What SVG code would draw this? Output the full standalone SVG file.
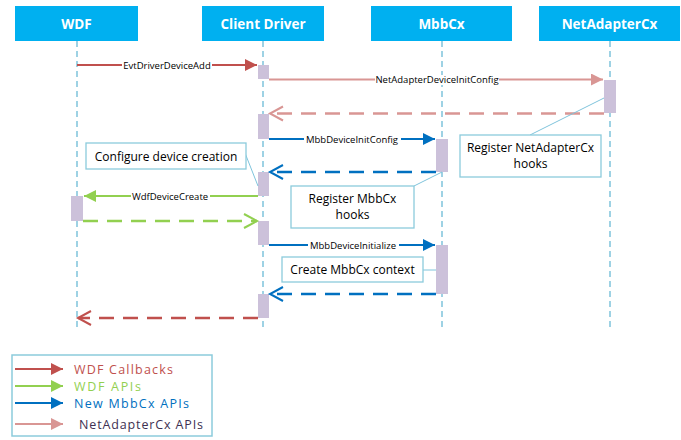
<svg xmlns="http://www.w3.org/2000/svg" width="681" height="440" viewBox="0 0 681 440">
<style>
.hdr{fill:#00b0f0}
.htxt{font-family:"Open Sans","Noto Sans",sans-serif;font-weight:bold;font-size:13.5px;fill:#fff;text-anchor:middle}
.life{stroke:#7fc4dc;stroke-width:1.5;stroke-dasharray:6,4;fill:none}
.act{fill:#ccc1da}
.msg{font-family:"Open Sans","Noto Sans",sans-serif;font-size:9.5px;fill:#000;text-anchor:middle}
.lbg{fill:#fff}
.note{fill:#fff;stroke:#8ccbdc;stroke-width:1.3}
.ntxt{font-family:"Open Sans","Noto Sans",sans-serif;font-size:12px;fill:#000;text-anchor:middle}
.nline{stroke:#7fc4dc;stroke-width:1;fill:none}
.solid{stroke-width:2;fill:none}
.dash{stroke-width:2.5;fill:none;stroke-dasharray:15,9}
.red{stroke:#c0504d}.pink{stroke:#d99694}.blue{stroke:#0070c0}.green{stroke:#92d050}
.leg{font-family:"Open Sans","Noto Sans",sans-serif;font-size:12.5px}
</style>
<defs>
<marker id="fRed" markerUnits="userSpaceOnUse" markerWidth="13" markerHeight="13" refX="12" refY="6" orient="auto"><path d="M0,0 L12,6 L0,12 z" fill="#c0504d"/></marker>
<marker id="fPink" markerUnits="userSpaceOnUse" markerWidth="13" markerHeight="13" refX="12" refY="6" orient="auto"><path d="M0,0 L12,6 L0,12 z" fill="#d99694"/></marker>
<marker id="fBlue" markerUnits="userSpaceOnUse" markerWidth="13" markerHeight="13" refX="12" refY="6" orient="auto"><path d="M0,0 L12,6 L0,12 z" fill="#0070c0"/></marker>
<marker id="fGreen" markerUnits="userSpaceOnUse" markerWidth="13" markerHeight="13" refX="12" refY="6" orient="auto"><path d="M0,0 L12,6 L0,12 z" fill="#92d050"/></marker>
<marker id="oRed" markerUnits="userSpaceOnUse" markerWidth="18" markerHeight="20" refX="14" refY="9" orient="auto" overflow="visible"><path d="M1,2 L14,9 L1,16" fill="none" stroke="#c0504d" stroke-width="2"/></marker>
<marker id="oPink" markerUnits="userSpaceOnUse" markerWidth="18" markerHeight="20" refX="14" refY="9" orient="auto" overflow="visible"><path d="M1,2 L14,9 L1,16" fill="none" stroke="#d99694" stroke-width="2"/></marker>
<marker id="oBlue" markerUnits="userSpaceOnUse" markerWidth="18" markerHeight="20" refX="14" refY="9" orient="auto" overflow="visible"><path d="M1,2 L14,9 L1,16" fill="none" stroke="#0070c0" stroke-width="2"/></marker>
<marker id="oGreen" markerUnits="userSpaceOnUse" markerWidth="18" markerHeight="20" refX="14" refY="9" orient="auto" overflow="visible"><path d="M1,2 L14,9 L1,16" fill="none" stroke="#92d050" stroke-width="2"/></marker>
</defs>
<rect width="681" height="440" fill="#fff"/>

<g id="wdf">
<rect class="hdr" x="15" y="6" width="123" height="35"/>
<text class="htxt" x="76.5" y="29">WDF</text>
<line class="life" x1="77" y1="41" x2="77" y2="330"/>
<rect class="act" x="71" y="196" width="12" height="25"/>
</g>
<g id="client-driver">
<rect class="hdr" x="202" y="6" width="122" height="35"/>
<text class="htxt" x="263" y="29">Client Driver</text>
<line class="life" x1="263" y1="41" x2="263" y2="330"/>
<rect class="act" x="258" y="65" width="11" height="14"/>
<rect class="act" x="258" y="114" width="11" height="25"/>
<rect class="act" x="258" y="172" width="11" height="24"/>
<rect class="act" x="258" y="221" width="11" height="24"/>
<rect class="act" x="258" y="294" width="11" height="24"/>
</g>
<g id="mbbcx">
<rect class="hdr" x="371" y="6" width="141" height="35"/>
<text class="htxt" x="441.5" y="29">MbbCx</text>
<line class="life" x1="442" y1="41" x2="442" y2="330"/>
<rect class="act" x="436" y="139" width="12" height="33"/>
<rect class="act" x="436" y="245" width="12" height="49"/>
</g>
<g id="netadaptercx">
<rect class="hdr" x="539" y="6" width="141" height="35"/>
<text class="htxt" x="609.5" y="29">NetAdapterCx</text>
<line class="life" x1="610" y1="41" x2="610" y2="330"/>
<rect class="act" x="604" y="80" width="12" height="33"/>
</g>

<g id="connectors">
<line class="solid red" x1="77" y1="65" x2="257" y2="65" marker-end="url(#fRed)"/>
<rect class="lbg" x="122" y="60" width="90" height="10"/>
<text class="msg" x="167" y="68.5">EvtDriverDeviceAdd</text>

<line class="solid pink" x1="269" y1="79.5" x2="603" y2="79.5" marker-end="url(#fPink)"/>
<rect class="lbg" x="375" y="75" width="124" height="10"/>
<text class="msg" x="437" y="83">NetAdapterDeviceInitConfig</text>

<line class="dash pink" x1="604" y1="113.5" x2="270" y2="113.5" marker-end="url(#oPink)"/>

<line class="solid blue" x1="269" y1="139" x2="435" y2="139" marker-end="url(#fBlue)"/>
<rect class="lbg" x="304" y="134" width="97" height="10"/>
<text class="msg" x="352" y="142.5">MbbDeviceInitConfig</text>

<line class="dash blue" x1="436" y1="172" x2="270" y2="172" marker-end="url(#oBlue)"/>

<line class="solid green" x1="258" y1="196" x2="84" y2="196" marker-end="url(#fGreen)"/>
<rect class="lbg" x="131" y="191" width="79" height="10"/>
<text class="msg" x="170" y="199.5">WdfDeviceCreate</text>

<line class="dash green" x1="83" y1="221" x2="257" y2="221" marker-end="url(#oGreen)"/>

<line class="solid blue" x1="269" y1="245" x2="435" y2="245" marker-end="url(#fBlue)"/>
<rect class="lbg" x="308" y="240" width="91" height="10"/>
<text class="msg" x="353" y="248.5">MbbDeviceInitialize</text>

<line class="dash blue" x1="436" y1="294" x2="270" y2="294" marker-end="url(#oBlue)"/>

<line class="dash red" x1="258" y1="318" x2="78" y2="318" marker-end="url(#oRed)"/>

<line class="nline" x1="245" y1="153" x2="258" y2="186"/>
<line class="nline" x1="414" y1="186" x2="442" y2="172"/>
<line class="nline" x1="530" y1="135" x2="604" y2="98"/>
<line class="nline" x1="423" y1="270" x2="436" y2="270"/>
</g>

<g id="note-configure">
<rect class="note" x="86" y="143" width="160" height="26"/>
<text class="ntxt" x="166" y="160.5">Configure device creation</text>
</g>
<g id="note-register-mbbcx">
<rect class="note" x="291" y="186" width="123" height="42"/>
<text class="ntxt" x="352.5" y="203">Register MbbCx</text>
<text class="ntxt" x="352.5" y="219">hooks</text>
</g>
<g id="note-register-netadaptercx">
<rect class="note" x="460" y="135" width="141" height="42"/>
<text class="ntxt" x="530.5" y="152">Register NetAdapterCx</text>
<text class="ntxt" x="530.5" y="168">hooks</text>
</g>
<g id="note-create-context">
<rect class="note" x="282" y="257" width="141" height="25"/>
<text class="ntxt" x="352.5" y="274">Create MbbCx context</text>
</g>

<g id="legend">
<rect x="12" y="355" width="200" height="81" fill="#fff" stroke="#8ccbdc" stroke-width="1.5"/>
<line class="solid red" x1="15" y1="369" x2="63" y2="369" marker-end="url(#fRed)"/>
<text class="leg" x="74" y="374" fill="#c0504d" textLength="99" lengthAdjust="spacing">WDF Callbacks</text>
<line class="solid green" x1="15" y1="386" x2="63" y2="386" marker-end="url(#fGreen)"/>
<text class="leg" x="74" y="391" fill="#92d050" textLength="67" lengthAdjust="spacing">WDF APIs</text>
<line class="solid blue" x1="15" y1="403" x2="63" y2="403" marker-end="url(#fBlue)"/>
<text class="leg" x="74" y="408" fill="#0070c0" textLength="115" lengthAdjust="spacing">New MbbCx APIs</text>
<line class="solid pink" x1="15" y1="424" x2="63" y2="424" marker-end="url(#fPink)"/>
<text class="leg" x="79" y="429" fill="#403152" textLength="124" lengthAdjust="spacing">NetAdapterCx APIs</text>
</g>
</svg>
